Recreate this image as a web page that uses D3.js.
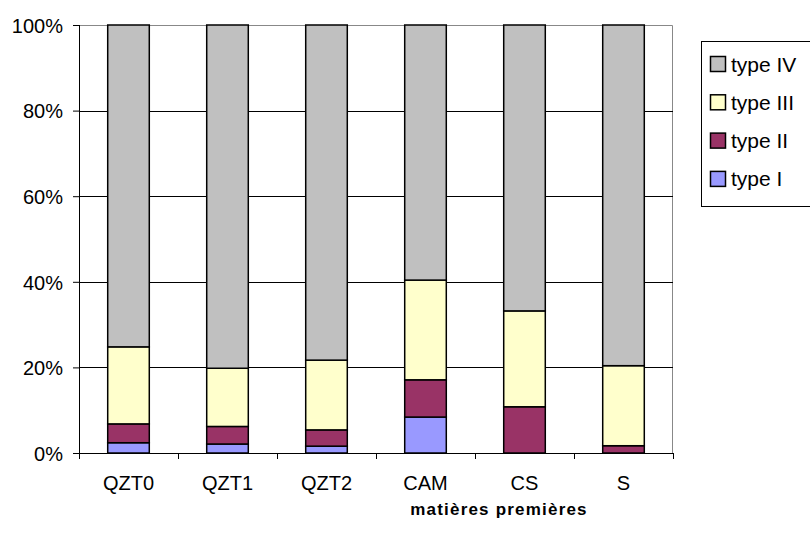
<!DOCTYPE html>
<html>
<head>
<meta charset="utf-8">
<script src="https://cdn.jsdelivr.net/npm/d3@7"></script>
<style>
body { margin: 0; background: #fff; }
svg text { font-family: "Liberation Sans", Arial, sans-serif; fill: #000; }
</style>
</head>
<body>
<div id="chart"></div>
<script>
// data (percent of each category)
var categories = ["QZT0", "QZT1", "QZT2", "CAM", "CS", "S"];
var seriesNames = ["type I", "type II", "type III", "type IV"];
var typeI   = [2.4, 2.1, 1.6, 8.4, 0, 0];
var typeII  = [4.4, 4.1, 3.8, 8.7, 10.8, 1.7];
var typeIII = [18.0, 13.6, 16.3, 23.3, 22.4, 18.7];
var typeIV  = [75.2, 80.2, 78.3, 59.6, 66.8, 79.6];
var colors = ["#9999FF", "#993366", "#FFFFCC", "#C0C0C0"];
var yTicks = [0, 20, 40, 60, 80, 100];

var margin = { top: 25, right: 137, bottom: 84, left: 79 };
var width = 810 - margin.left - margin.right,
    height = 537 - margin.top - margin.bottom;

var svg = d3.select("#chart").append("svg")
    .attr("width", 810)
    .attr("height", 537);

var g = svg.append("g")
    .attr("transform", "translate(" + margin.left + "," + margin.top + ")");

var table = categories.map(function(c, i) {
    return { cat: c, "type I": typeI[i], "type II": typeII[i], "type III": typeIII[i], "type IV": typeIV[i] };
});
var stacked = d3.stack().keys(seriesNames)(table);

var x = d3.scaleBand()
    .domain(categories)
    .range([0, width])
    .paddingInner(0.58)
    .paddingOuter(0.29);

var y = d3.scaleLinear()
    .domain([0, 100])
    .range([height, 0]);

// plot area border (gray top/right)
g.append("path")
    .attr("d", "M0,0.5H" + (width - 0.5) + "V" + height)
    .attr("fill", "none")
    .attr("stroke", "#888")
    .attr("stroke-width", 1);

// gridlines
g.selectAll(".grid")
    .data(yTicks.slice(1, -1))
    .enter().append("line")
    .attr("x1", 0).attr("x2", width)
    .attr("y1", function(d) { return Math.round(y(d)) + 0.5; })
    .attr("y2", function(d) { return Math.round(y(d)) + 0.5; })
    .attr("stroke", "#000")
    .attr("stroke-width", 1);

// bars
var layers = g.selectAll(".layer")
    .data(stacked)
    .enter().append("g")
    .attr("fill", function(d, i) { return colors[i]; });

layers.selectAll("rect")
    .data(function(d) { return d; })
    .enter().append("rect")
    .filter(function(d) { return d[1] - d[0] > 0; })
    .attr("x", function(d) { return x(d.data.cat); })
    .attr("y", function(d) { return y(d[1]); })
    .attr("width", x.bandwidth())
    .attr("height", function(d) { return y(d[0]) - y(d[1]); })
    .attr("stroke", "#000")
    .attr("stroke-width", 1.5);

// y axis
var yAxis = d3.axisLeft(y)
    .tickValues(yTicks)
    .tickFormat(function(d) { return d + "%"; })
    .tickSize(6)
    .tickPadding(10);
var ya = g.append("g").call(yAxis);
ya.select(".domain").attr("stroke", "#000").attr("d", "M0.5," + height + "V0");
ya.selectAll("text").style("font-size", "20px").attr("dy", "0.36em");

// x axis with ticks between categories
g.append("line")
    .attr("x1", 0).attr("x2", width)
    .attr("y1", height + 0.5).attr("y2", height + 0.5)
    .attr("stroke", "#000");
g.selectAll(".xtick")
    .data(d3.range(categories.length + 1))
    .enter().append("line")
    .attr("x1", function(i) { return Math.round(i * width / categories.length) + 0.5; })
    .attr("x2", function(i) { return Math.round(i * width / categories.length) + 0.5; })
    .attr("y1", height)
    .attr("y2", height + 6)
    .attr("stroke", "#000");
g.selectAll(".xlabel")
    .data(categories)
    .enter().append("text")
    .attr("x", function(d) { return x(d) + x.bandwidth() / 2; })
    .attr("y", height + 37)
    .attr("text-anchor", "middle")
    .style("font-size", "20px")
    .text(function(d) { return d; });

// axis title
svg.append("text")
    .attr("x", 499)
    .attr("y", 515)
    .attr("text-anchor", "middle")
    .style("font-size", "17px")
    .style("font-weight", "bold")
    .style("letter-spacing", "1.2px")
    .text("matières premières");

// legend
var legend = svg.append("g");
legend.append("rect")
    .attr("x", 701.5).attr("y", 41.5)
    .attr("width", 120).attr("height", 165)
    .attr("fill", "#fff")
    .attr("stroke", "#000");
var legendItems = seriesNames.slice().reverse();
var legendColors = colors.slice().reverse();
legendItems.forEach(function(name, i) {
    var cy = 64 + i * 38.3;
    legend.append("rect")
        .attr("x", 710.5).attr("y", cy - 7.5)
        .attr("width", 15).attr("height", 15)
        .attr("fill", legendColors[i])
        .attr("stroke", "#000")
        .attr("stroke-width", 1.5);
    legend.append("text")
        .attr("x", 731)
        .attr("y", cy + 7.5)
        .style("font-size", "21px")
        .text(name);
});
</script>
</body>
</html>
